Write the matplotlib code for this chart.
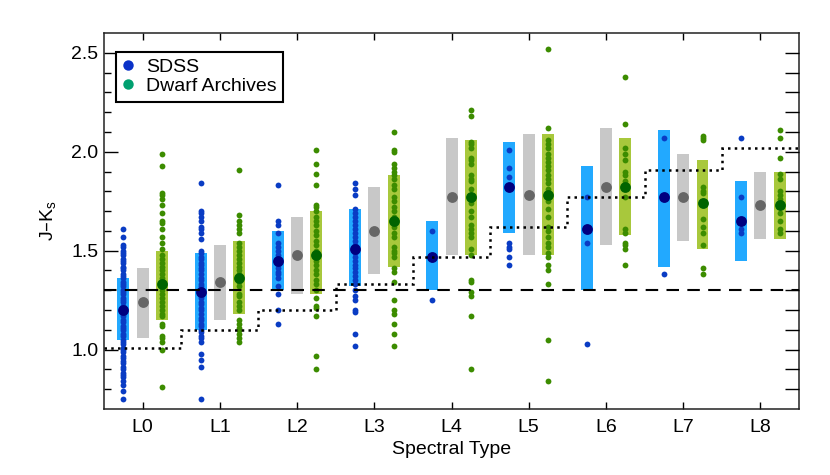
import matplotlib as mpl
mpl.use('Agg')
import matplotlib.pyplot as plt
from matplotlib.lines import Line2D
import numpy as np

plt.rcParams['font.family'] = ['Liberation Sans', 'DejaVu Sans']

types = ['L0', 'L1', 'L2', 'L3', 'L4', 'L5', 'L6', 'L7', 'L8']

# SDSS individual colours
sdss_pts = [
    [1.61, 1.57, 1.53, 1.52, 1.50, 1.49, 1.48, 1.46, 1.45, 1.44, 1.42, 1.41, 1.40, 1.38,
     1.37, 1.36, 1.34, 1.33, 1.32, 1.30, 1.29, 1.28, 1.26, 1.25, 1.24, 1.22, 1.21, 1.19,
     1.18, 1.17, 1.15, 1.14, 1.12, 1.11, 1.10, 1.08, 1.07, 1.05, 1.04, 1.03, 1.01, 1.00,
     0.99, 0.97, 0.96, 0.94, 0.93, 0.91, 0.90, 0.88, 0.87, 0.86, 0.84, 0.82, 0.79, 0.75],
    [1.84, 1.70, 1.69, 1.67, 1.65, 1.62, 1.61, 1.59, 1.56, 1.50, 1.49, 1.47, 1.46, 1.44,
     1.43, 1.41, 1.40, 1.38, 1.36, 1.35, 1.33, 1.32, 1.30, 1.29, 1.27, 1.26, 1.24, 1.23,
     1.21, 1.20, 1.18, 1.16, 1.15, 1.13, 1.12, 1.10, 1.09, 1.07, 1.06, 1.04, 0.98, 0.95,
     0.91, 0.75],
    [1.83, 1.65, 1.63, 1.59, 1.54, 1.52, 1.50, 1.48, 1.46, 1.43, 1.41, 1.39, 1.38, 1.36,
     1.32, 1.28, 1.20, 1.13],
    [1.84, 1.81, 1.78, 1.71, 1.69, 1.67, 1.65, 1.63, 1.61, 1.59, 1.57, 1.55, 1.53, 1.51,
     1.49, 1.47, 1.45, 1.43, 1.41, 1.39, 1.37, 1.35, 1.33, 1.30, 1.27, 1.25, 1.20, 1.19,
     1.08, 1.02],
    [1.60, 1.47, 1.25],
    [2.01, 1.92, 1.87, 1.82, 1.54, 1.52, 1.51, 1.47, 1.43],
    [1.77, 1.61, 1.54, 1.03],
    [2.07, 1.77, 1.38],
    [2.07, 1.77, 1.65, 1.61, 1.59],
]

# Dwarf Archives individual colours
da_pts = [
    [1.99, 1.93, 1.79, 1.78, 1.76, 1.73, 1.69, 1.65, 1.64, 1.61, 1.57, 1.54, 1.51, 1.48,
     1.46, 1.44, 1.42, 1.40, 1.38, 1.36, 1.34, 1.32, 1.30, 1.28, 1.26, 1.24, 1.22, 1.20,
     1.18, 1.17, 1.13, 1.12, 1.07, 1.06, 1.04, 1.00, 0.81],
    [1.91, 1.68, 1.65, 1.63, 1.61, 1.59, 1.54, 1.52, 1.50, 1.48, 1.46, 1.44, 1.42, 1.40,
     1.38, 1.36, 1.34, 1.32, 1.28, 1.27, 1.24, 1.22, 1.20, 1.15, 1.13, 1.11, 1.10, 1.08,
     1.06, 1.04],
    [2.01, 1.94, 1.89, 1.83, 1.73, 1.72, 1.70, 1.67, 1.65, 1.63, 1.60, 1.58, 1.55, 1.53,
     1.50, 1.48, 1.45, 1.43, 1.40, 1.38, 1.35, 1.33, 1.30, 1.26, 1.22, 1.21, 1.17, 0.97,
     0.90],
    [2.10, 2.01, 2.00, 1.94, 1.92, 1.90, 1.88, 1.86, 1.83, 1.81, 1.77, 1.75, 1.72, 1.70,
     1.67, 1.65, 1.62, 1.59, 1.57, 1.52, 1.50, 1.49, 1.47, 1.41, 1.39, 1.34, 1.25, 1.20,
     1.18, 1.13, 1.08, 1.02],
    [2.21, 2.18, 2.05, 2.04, 2.02, 1.97, 1.96, 1.94, 1.88, 1.86, 1.85, 1.81, 1.77, 1.74,
     1.70, 1.67, 1.63, 1.61, 1.59, 1.57, 1.51, 1.48, 1.35, 1.34, 1.29, 1.27, 1.17, 0.90],
    [2.52, 2.12, 2.06, 2.04, 2.02, 1.99, 1.97, 1.95, 1.93, 1.91, 1.88, 1.86, 1.84, 1.81,
     1.78, 1.75, 1.71, 1.67, 1.62, 1.60, 1.57, 1.54, 1.52, 1.49, 1.47, 1.43, 1.40, 1.33,
     1.05, 0.84],
    [2.38, 2.14, 2.02, 1.99, 1.96, 1.90, 1.88, 1.85, 1.82, 1.77, 1.61, 1.59, 1.54, 1.53,
     1.51, 1.43],
    [2.08, 2.07, 2.06, 1.82, 1.80, 1.79, 1.74, 1.66, 1.62, 1.59, 1.53, 1.41, 1.38],
    [2.11, 2.07, 1.97, 1.89, 1.86, 1.80, 1.78, 1.76, 1.73, 1.69, 1.65, 1.61, 1.59],
]

# ranges and medians
sdss_lo = [1.05, 1.10, 1.30, 1.32, 1.30, 1.59, 1.30, 1.42, 1.45]
sdss_hi = [1.36, 1.49, 1.60, 1.71, 1.65, 2.05, 1.93, 2.11, 1.85]
sdss_med = [1.20, 1.29, 1.45, 1.51, 1.47, 1.82, 1.61, 1.77, 1.65]
all_lo = [1.06, 1.15, 1.28, 1.38, 1.48, 1.48, 1.53, 1.55, 1.56]
all_hi = [1.41, 1.53, 1.67, 1.82, 2.07, 2.09, 2.12, 1.99, 1.90]
all_med = [1.24, 1.34, 1.48, 1.60, 1.77, 1.78, 1.82, 1.77, 1.73]
da_lo = [1.15, 1.18, 1.28, 1.42, 1.48, 1.48, 1.58, 1.51, 1.56]
da_hi = [1.50, 1.55, 1.70, 1.88, 2.06, 2.09, 2.07, 1.96, 1.90]
da_med = [1.33, 1.36, 1.48, 1.65, 1.77, 1.78, 1.82, 1.74, 1.73]

# colour cut per spectral type (dotted) and fixed cut (dashed)
cut_vals = [1.01, 1.10, 1.20, 1.33, 1.47, 1.62, 1.77, 1.91, 2.02]
fixed_cut = 1.30

x = np.arange(len(types))
off = 0.25
w = 0.155

fig = plt.figure(figsize=(8.3, 4.75), dpi=100)
ax = fig.add_axes([0.1253, 0.139, 0.8374, 0.7915])

ax.bar(x - off, np.array(sdss_hi) - np.array(sdss_lo), bottom=sdss_lo, width=w,
       color='#22A9FF', zorder=1)
ax.bar(x, np.array(all_hi) - np.array(all_lo), bottom=all_lo, width=w,
       color='#C8C8C8', zorder=1)
ax.bar(x + off, np.array(da_hi) - np.array(da_lo), bottom=da_lo, width=w,
       color='#A8C83C', zorder=1)

for i in range(len(types)):
    ax.plot(np.full(len(sdss_pts[i]), x[i] - off), sdss_pts[i], 'o', ms=4.2,
            mew=0, color='#0A3CC4', zorder=2)
    ax.plot(np.full(len(da_pts[i]), x[i] + off), da_pts[i], 'o', ms=4.2,
            mew=0, color='#3C8C00', zorder=2)

ax.plot(x - off, sdss_med, 'o', ms=7.8, mew=0, color='#000080', zorder=3)
ax.plot(x, all_med, 'o', ms=7.8, mew=0, color='#666666', zorder=3)
ax.plot(x + off, da_med, 'o', ms=7.8, mew=0, color='#006400', zorder=3)

ax.axhline(fixed_cut, color='black', lw=1.5, ls=(0, (6, 4)), zorder=4)
ax.stairs(cut_vals, np.arange(len(types) + 1) - 0.5, color='black', lw=1.8,
          ls=(0, (1, 1.7)), baseline=None, zorder=4)

ax.set_xlim(-0.5, 8.5)
ax.set_ylim(0.7, 2.6)
ax.set_xticks(x)
ax.set_xticklabels(types)
ax.set_yticks([1.0, 1.5, 2.0, 2.5])
ax.set_yticklabels(['1.0', '1.5', '2.0', '2.5'])
ax.set_yticks(np.arange(0.8, 2.55, 0.1), minor=True)
ax.tick_params(axis='both', which='both', direction='in', labelsize=14, width=1.0)
ax.tick_params(axis='y', which='major', length=10, left=True, right=False, pad=4)
ax.tick_params(axis='y', which='minor', length=5, left=True, right=False)
ax.tick_params(axis='x', which='major', length=5, top=True, bottom=True, pad=7)
for s in ax.spines.values():
    s.set_linewidth(1.1)
    s.set_color('#222222')

ax2 = ax.twinx()
ax2.set_ylim(0.7, 2.6)
ax2.set_yticks(np.arange(0.8, 2.55, 0.1))
ax2.tick_params(axis='y', direction='in', length=10, width=1.0, labelright=False)
for s in ax2.spines.values():
    s.set_visible(False)

ax.set_xlabel('Spectral Type', fontsize=14, labelpad=4)
ax.set_ylabel('J–K$_\\mathregular{s}$', fontsize=14, labelpad=9)

handles = [
    Line2D([], [], marker='o', ls='none', ms=7.5, mew=0, color='#0A32C8', label='SDSS'),
    Line2D([], [], marker='o', ls='none', ms=7.5, mew=0, color='#00A070', label='Dwarf Archives'),
]
leg = ax.legend(handles=handles, loc='upper left', bbox_to_anchor=(0.017, 0.95),
                borderaxespad=0, fontsize=14, fancybox=False, framealpha=1,
                handlelength=0.6, handletextpad=0.6, borderpad=0.35, labelspacing=0.05)
leg.get_frame().set_edgecolor('black')
leg.get_frame().set_linewidth(1.5)

fig.savefig('out.png', dpi=100)
